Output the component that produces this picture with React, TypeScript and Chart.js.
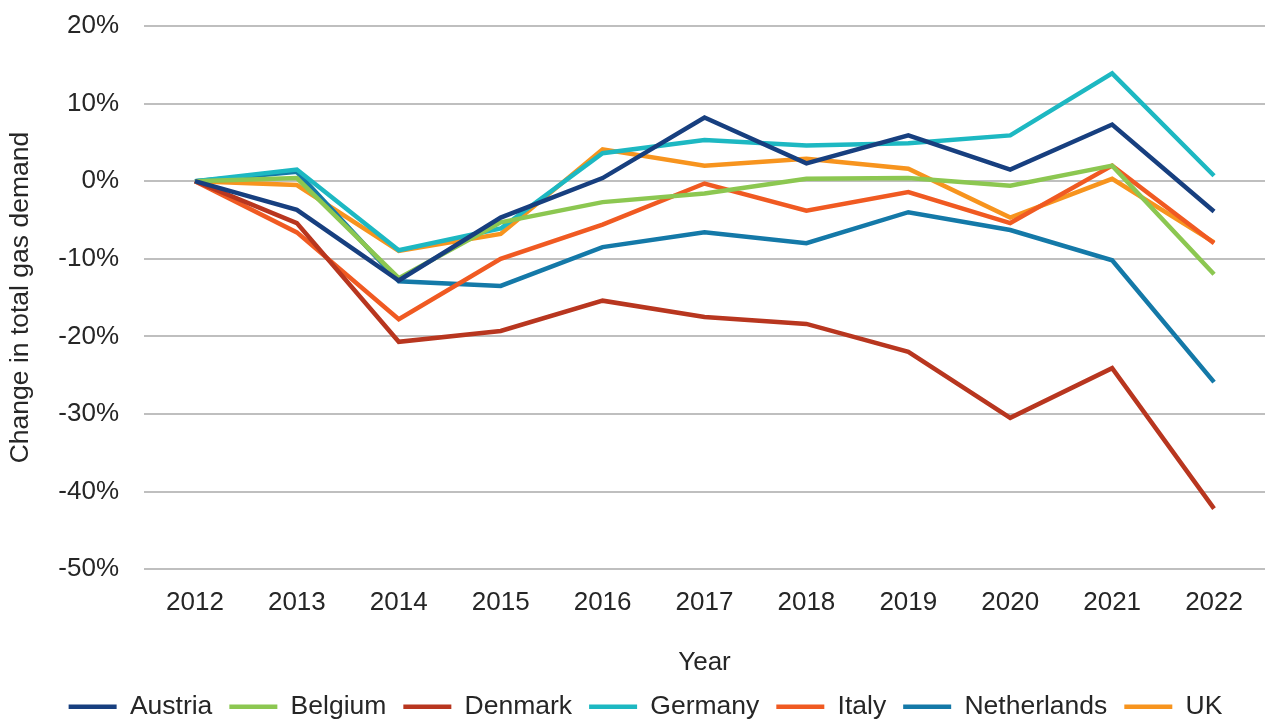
import React, { useEffect, useRef } from "react";
import { Chart, registerables } from "chart.js";

Chart.register(...registerables);

const years = ["2012", "2013", "2014", "2015", "2016", "2017", "2018", "2019", "2020", "2021", "2022"];

const austria = [0, -3.7, -12.8, -4.7, 0.4, 8.2, 2.3, 5.9, 1.5, 7.3, -3.9];
const belgium = [0, 0.4, -12.5, -5.3, -2.7, -1.6, 0.3, 0.4, -0.6, 2.0, -12.0];
const denmark = [0, -5.4, -20.7, -19.3, -15.4, -17.5, -18.4, -22.0, -30.5, -24.1, -42.2];
const germany = [0, 1.5, -8.9, -6.1, 3.6, 5.3, 4.6, 4.9, 5.9, 13.9, 0.7];
const italy = [0, -6.6, -17.8, -10.0, -5.6, -0.3, -3.8, -1.4, -5.4, 2.0, -8.0];
const netherlands = [0, 1.2, -12.9, -13.5, -8.5, -6.6, -8.0, -4.0, -6.3, -10.2, -25.9];
const uk = [0, -0.5, -9.0, -6.8, 4.1, 2.0, 2.9, 1.6, -4.7, 0.3, -7.9];

const seriesNames = ["Austria", "Belgium", "Denmark", "Germany", "Italy", "Netherlands", "UK"];
const seriesColors = ["#173F7F", "#8CC751", "#B8361F", "#1DB8C2", "#F05A22", "#1479A8", "#F7941E"];
const seriesValues = [austria, belgium, denmark, germany, italy, netherlands, uk];

const yMin = -50;
const yMax = 20;
const yStep = 10;

const FONT = "'Liberation Sans', Arial, sans-serif";
const TEXT = "#262626";

export default function App() {
  const ref = useRef<HTMLCanvasElement | null>(null);

  useEffect(() => {
    document.body.style.margin = "0";
    const canvas = ref.current;
    if (!canvas) return;
    const chart = new Chart(canvas, {
      type: "line",
      data: {
        labels: years,
        datasets: seriesNames.map((name, i) => ({
          label: name,
          data: seriesValues[i],
          borderColor: seriesColors[i],
          backgroundColor: seriesColors[i],
          borderWidth: 4.5,
          pointRadius: 0,
          tension: 0,
          fill: false,
        })),
      },
      options: {
        responsive: false,
        animation: false,
        layout: { padding: { top: 26, right: 0, bottom: -11, left: 26 } },
        plugins: {
          tooltip: { enabled: false },
          legend: {
            position: "bottom",
            labels: {
              font: { family: FONT, size: 26.5 },
              color: TEXT,
              usePointStyle: true,
              pointStyle: "line",
              pointStyleWidth: 48,
              boxHeight: 4,
              padding: 17,
            },
          },
        },
        scales: {
          x: {
            offset: true,
            grid: { display: false, drawTicks: false },
            border: { display: false },
            ticks: { font: { family: FONT, size: 26 }, color: TEXT, padding: 18 },
            title: {
              display: true,
              text: "Year",
              font: { family: FONT, size: 26 },
              color: TEXT,
              padding: { top: 11, bottom: -2 },
            },
          },
          y: {
            min: yMin,
            max: yMax,
            grid: { color: "#BFBFBF", lineWidth: 2, drawTicks: false },
            border: { display: false },
            ticks: {
              stepSize: yStep,
              font: { family: FONT, size: 26 },
              color: TEXT,
              padding: 25,
              callback: (v: any) => `${v}%`,
            },
            title: {
              display: true,
              text: "Change in total gas demand",
              font: { family: FONT, size: 26.5 },
              color: TEXT,
              padding: { top: -21, bottom: 0 },
            },
            afterFit: (scale: any) => {
              scale.width = 118;
              scale.paddingTop = 0;
              scale.paddingBottom = 0;
            },
          },
        },
      },
    });
    return () => chart.destroy();
  }, []);

  return (
    <div style={{ position: "fixed", left: 0, top: 0, width: 1265, height: 719, background: "#fff" }}>
      <canvas ref={ref} width={1265} height={719} />
    </div>
  );
}
